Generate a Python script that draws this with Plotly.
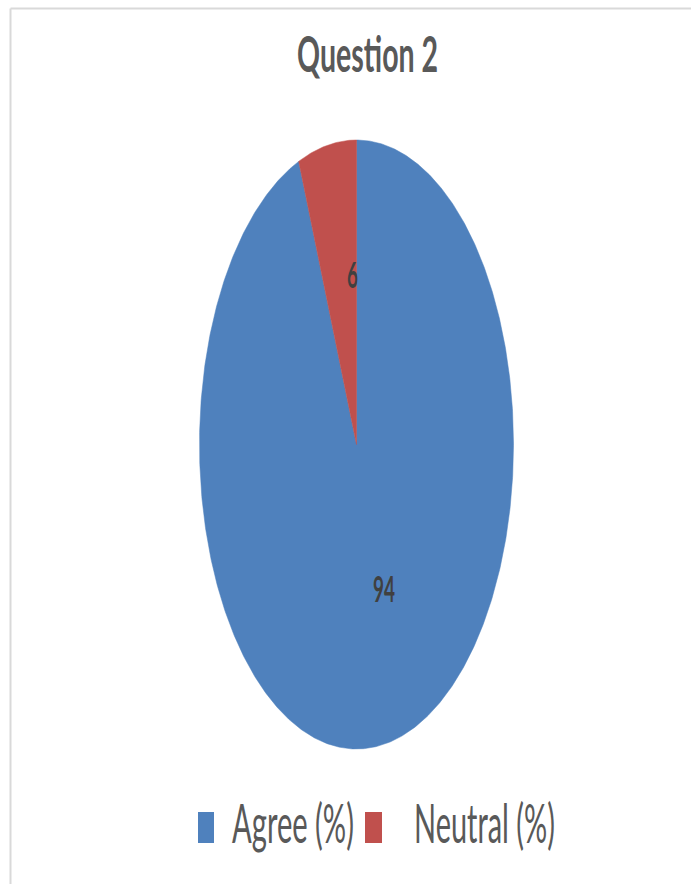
import json
import numpy as np
import plotly.graph_objects as go

# Chart data
categories = ["Agree (%)", "Neutral (%)"]
values = [94, 6]
colors = ["#4F81BD", "#C0504D"]
title_text = "Question 2"

# Page geometry (pixels)
W, H = 691, 884
CX, CY = 356.5, 444.5      # pie centre
RX, RY = 157.0, 304.5      # horizontal / vertical radius of the stretched pie
label_radius = [0.48, 0.57]  # radial position of each value label (fraction of radius)

FONT = "Lato, 'Open Sans', sans-serif"
TEXT_GREY = "#595959"


def px(x):
    return x / W


def py(y):
    return 1 - y / H


fig = go.Figure()
# horizontal squeeze applied to each annotation's text: (target width px, origin)
squeeze = []

total = float(sum(values))
start = 0.0  # degrees, clockwise from 12 o'clock
for cat, val, col, rr in zip(categories, values, colors, label_radius):
    sweep = 360.0 * val / total
    theta = np.radians(np.linspace(start, start + sweep, max(int(sweep * 2), 8)))
    xs = np.concatenate([[0.0], np.sin(theta), [0.0]])
    ys = np.concatenate([[0.0], np.cos(theta), [0.0]])
    fig.add_trace(go.Scatter(
        x=xs, y=ys, mode="lines", fill="toself", fillcolor=col,
        line=dict(width=0.5, color=col), name=cat, showlegend=False,
        hoverinfo="name",
    ))
    mid = np.radians(start + sweep / 2)
    fig.add_annotation(
        x=rr * np.sin(mid), y=rr * np.cos(mid), xref="x", yref="y",
        text=f"<b>{val}</b>", showarrow=False, xshift=13,
        font=dict(family=FONT, size=36, color="#404040"),
    )
    squeeze.append([11.0 * len(str(val)), "center"])
    start += sweep

# Title
fig.add_annotation(
    x=px(367.5), y=py(53), xref="paper", yref="paper",
    text=f"<b>{title_text}</b>", showarrow=False,
    font=dict(family=FONT, size=50, color=TEXT_GREY),
    xanchor="center", yanchor="middle",
)
squeeze.append([141, "center"])

# Legend: coloured swatch + label per category
legend_items = [(198, 214, 230, 122), (365, 382, 412, 141)]
for (sx0, sx1, tx, tw), cat, col in zip(legend_items, categories, colors):
    fig.add_shape(
        type="rect", xref="paper", yref="paper",
        x0=px(sx0), x1=px(sx1), y0=py(843), y1=py(812),
        fillcolor=col, line=dict(width=0),
    )
    fig.add_annotation(
        x=px(tx), y=py(822), xref="paper", yref="paper",
        text=cat, showarrow=False, xanchor="left", yanchor="middle",
        font=dict(family=FONT, size=55, color=TEXT_GREY),
    )
    squeeze.append([tw, "left"])

# Chart-area border (top and left edges visible)
fig.add_shape(type="line", xref="paper", yref="paper",
              x0=px(10.5), x1=1, y0=py(8.5), y1=py(8.5),
              line=dict(color="#D9D9D9", width=2))
fig.add_shape(type="line", xref="paper", yref="paper",
              x0=px(10.5), x1=px(10.5), y0=py(8.5), y1=0,
              line=dict(color="#D9D9D9", width=2))

fig.update_xaxes(range=[-CX / RX, (W - CX) / RX], visible=False, fixedrange=True)
fig.update_yaxes(range=[-(H - CY) / RY, CY / RY], visible=False, fixedrange=True)
fig.update_layout(
    width=W, height=H, autosize=False,
    margin=dict(l=0, r=0, t=0, b=0),
    paper_bgcolor="white", plot_bgcolor="white",
    showlegend=False,
)

# Narrow the text horizontally (condensed look) once the plot is drawn
post_js = """
var cfg = %s;
var gd = document.querySelector('.plotly-graph-div');
gd.querySelectorAll('g.annotation').forEach(function (a) {
  var i = +a.getAttribute('data-index');
  var c = cfg[i];
  if (!c) return;
  var t = a.querySelector('text');
  var w = t.getBBox().width;
  if (!w) return;
  t.style.transformBox = 'fill-box';
  t.style.transformOrigin = c[1] + ' center';
  t.style.transform = 'scaleX(' + (c[0] / w) + ')';
});
""" % json.dumps(squeeze)

fig.write_html("out.html", post_script=post_js)
